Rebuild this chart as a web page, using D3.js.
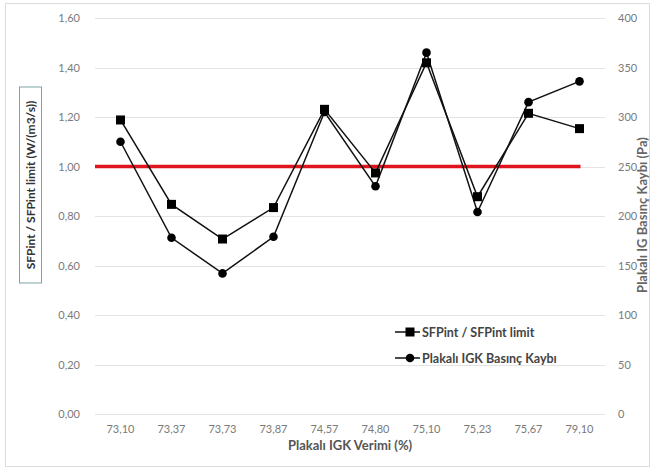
<!DOCTYPE html>
<html>
<head>
<meta charset="utf-8">
<script src="https://cdn.jsdelivr.net/npm/d3@7/dist/d3.min.js"></script>
<style>
  html, body { margin: 0; padding: 0; background: #fff; }
  svg { display: block; }
</style>
</head>
<body>
<svg id="chart" width="654" height="472"></svg>
<script>
// ---- data ----
const categories = ["73,10", "73,37", "73,73", "73,87", "74,57", "74,80", "75,10", "75,23", "75,67", "79,10"];
const sfpRatio = [1.188, 0.847, 0.707, 0.834, 1.231, 0.974, 1.419, 0.878, 1.215, 1.153];
const pressureLoss = [275, 178, 142, 179, 305, 230, 365, 204, 315, 336];
const limitValue = 1.0;
const leftTicks = [0, 0.2, 0.4, 0.6, 0.8, 1.0, 1.2, 1.4, 1.6];
const rightTicks = [0, 50, 100, 150, 200, 250, 300, 350, 400];
const seriesNames = ["SFPint / SFPint limit", "Plakalı IGK Basınç Kaybı"];
const xTitle = "Plakalı IGK Verimi (%)";
const yLeftTitle = "SFPint / SFPint limit (W/(m3/s))";
const yRightTitle = "Plakalı IG Basınç Kaybı (Pa)";

// ---- layout ----
const svg = d3.select("#chart");
const plot = { left: 95, right: 605, top: 18, bottom: 414 };
const font = 'Lato, "Open Sans", sans-serif';

// outer frame
svg.append("rect").attr("x", 5.5).attr("y", 3.5).attr("width", 644).attr("height", 463)
  .attr("fill", "#fff").attr("stroke", "#dcdcdc").attr("stroke-width", 1);

const x = d3.scaleBand().domain(categories).range([plot.left, plot.right]).padding(0);
const yL = d3.scaleLinear().domain([0, 1.6]).range([plot.bottom, plot.top]);
const yR = d3.scaleLinear().domain([0, 400]).range([plot.bottom, plot.top]);
const cx = c => x(c) + x.bandwidth() / 2;

// gridlines
svg.append("g").selectAll("line").data(leftTicks).join("line")
  .attr("x1", plot.left).attr("x2", plot.right)
  .attr("y1", d => Math.round(yL(d)) + 0.5).attr("y2", d => Math.round(yL(d)) + 0.5)
  .attr("stroke", "#e3e3e3").attr("stroke-width", 1);

// left axis
const fmt = d3.format(".2f");
const gL = svg.append("g").attr("transform", `translate(${plot.left - 12},0)`)
  .call(d3.axisLeft(yL).tickValues(leftTicks).tickSize(0).tickFormat(d => fmt(d).replace(".", ",")));
gL.select(".domain").remove();
gL.selectAll("text").attr("fill", "#7a7a7a").attr("font-size", 11).attr("font-family", font);

// right axis
const gR = svg.append("g").attr("transform", `translate(${plot.right + 10},0)`)
  .call(d3.axisRight(yR).tickValues(rightTicks).tickSize(0));
gR.select(".domain").remove();
gR.selectAll("text").attr("fill", "#7a7a7a").attr("font-size", 11).attr("font-family", font);

// bottom axis
const gB = svg.append("g").attr("transform", `translate(0,${plot.bottom + 8})`)
  .call(d3.axisBottom(x).tickSize(0));
gB.select(".domain").remove();
gB.selectAll("text").attr("fill", "#7a7a7a").attr("font-size", 11).attr("font-family", font);

// red limit line
svg.append("line")
  .attr("x1", plot.left).attr("x2", cx(categories[categories.length - 1]) + 1)
  .attr("y1", yL(limitValue)).attr("y2", yL(limitValue))
  .attr("stroke", "#e0141c").attr("stroke-width", 3.5);

// series lines
const lineL = d3.line().x((d, i) => cx(categories[i])).y(d => yL(d));
const lineR = d3.line().x((d, i) => cx(categories[i])).y(d => yR(d));
svg.append("path").datum(pressureLoss).attr("d", lineR)
  .attr("fill", "none").attr("stroke", "#111").attr("stroke-width", 1.5);
svg.append("path").datum(sfpRatio).attr("d", lineL)
  .attr("fill", "none").attr("stroke", "#111").attr("stroke-width", 1.5);

// markers
svg.append("g").selectAll("circle").data(pressureLoss).join("circle")
  .attr("cx", (d, i) => cx(categories[i])).attr("cy", d => yR(d)).attr("r", 4.3)
  .attr("fill", "#000");
const sq = 9;
svg.append("g").selectAll("rect").data(sfpRatio).join("rect")
  .attr("x", (d, i) => cx(categories[i]) - sq / 2).attr("y", d => yL(d) - sq / 2)
  .attr("width", sq).attr("height", sq).attr("fill", "#000");

// axis titles
svg.append("text").attr("x", (plot.left + plot.right) / 2).attr("y", 450)
  .attr("text-anchor", "middle").attr("font-family", font).attr("font-weight", "bold")
  .attr("font-size", 13).attr("fill", "#555").text(xTitle);

// left title with box
const lt = svg.append("g").attr("transform", "translate(30.5,185) rotate(-90)");
lt.append("rect").attr("x", -98).attr("y", -11).attr("width", 196).attr("height", 22)
  .attr("fill", "#fff").attr("stroke", "#7fa3a8").attr("stroke-width", 1);
lt.append("text").attr("x", 0).attr("y", 4.5).attr("text-anchor", "middle")
  .attr("font-family", font).attr("font-weight", "bold").attr("font-size", 12)
  .attr("fill", "#333").text(yLeftTitle);

svg.append("text").attr("transform", "translate(647,215) rotate(-90)")
  .attr("text-anchor", "middle").attr("font-family", font).attr("font-weight", "bold")
  .attr("font-size", 13).attr("fill", "#666").text(yRightTitle);

// legend
const legend = svg.append("g");
const legY = [332, 358];
legY.forEach((ly, i) => {
  legend.append("line").attr("x1", 395).attr("x2", 420).attr("y1", ly).attr("y2", ly)
    .attr("stroke", "#111").attr("stroke-width", 1.5);
  if (i === 0) {
    legend.append("rect").attr("x", 410 - sq / 2).attr("y", ly - sq / 2)
      .attr("width", sq).attr("height", sq).attr("fill", "#000");
  } else {
    legend.append("circle").attr("cx", 410).attr("cy", ly).attr("r", 4.3).attr("fill", "#000");
  }
  legend.append("text").attr("x", 422).attr("y", ly + 4.5)
    .attr("font-family", font).attr("font-weight", "bold").attr("font-size", 12.5)
    .attr("fill", "#444").text(seriesNames[i]);
});
</script>
</body>
</html>
